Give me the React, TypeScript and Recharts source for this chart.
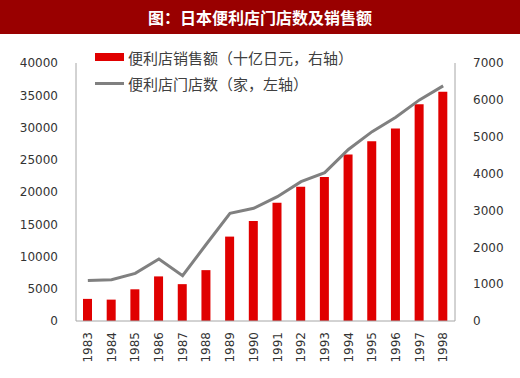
import React from 'react';
import { ComposedChart, Bar, Line, XAxis, YAxis } from 'recharts';

const years = ['1983','1984','1985','1986','1987','1988','1989','1990','1991','1992','1993','1994','1995','1996','1997','1998'];
const sales = [600, 580, 860, 1210, 1000, 1380, 2290, 2710, 3210, 3640, 3910, 4520, 4880, 5220, 5880, 6220];
const stores = [6260, 6410, 7390, 9620, 7030, 11900, 16700, 17470, 19280, 21600, 23000, 26600, 29360, 31590, 34280, 36450];
const leftTicks = [0, 5000, 10000, 15000, 20000, 25000, 30000, 35000, 40000];
const rightTicks = [0, 1000, 2000, 3000, 4000, 5000, 6000, 7000];
const salesName = '便利店销售额（十亿日元，右轴）';
const storesName = '便利店门店数（家，左轴）';
const title = '图：日本便利店门店数及销售额';

const data = years.map((y, i) => ({ year: y, sales: sales[i], stores: stores[i] }));

const axisFont = { fontFamily: 'DejaVu Sans', fontSize: 12, fill: '#333333' };
const cjk = '"Noto Sans CJK SC", sans-serif';

const XTick = (props: any) => {
  const { x, y, payload } = props;
  return (
    <g transform={`translate(${x},${y + 3})`}>
      <text transform="rotate(-90)" textAnchor="end" dy="0.35em" {...axisFont}>{payload.value}</text>
    </g>
  );
};

export default function App() {
  return (
    <div style={{ position: 'absolute', left: 0, top: 0, width: 520, height: 378, background: '#fff' }}>
      <div style={{ height: 34, background: '#990000', color: '#fff', fontFamily: cjk, fontWeight: 'bold', fontSize: 16, lineHeight: '34px', textAlign: 'center' }}>
        {title}
      </div>
      <ComposedChart width={520} height={344} data={data} margin={{ top: 29, right: 10, bottom: 7, left: 10 }}>
        <XAxis dataKey="year" tick={<XTick />} tickLine={false} axisLine={{ stroke: '#A6A6A6' }} height={50} interval={0} />
        <YAxis yAxisId="left" orientation="left" domain={[0, 40000]} ticks={leftTicks} width={66}
          tick={axisFont} tickLine={false} axisLine={{ stroke: '#A6A6A6' }} tickMargin={12} />
        <YAxis yAxisId="right" orientation="right" domain={[0, 7000]} ticks={rightTicks} width={55}
          tick={axisFont} tickLine={false} axisLine={{ stroke: '#A6A6A6' }} tickMargin={12} />
        <Bar yAxisId="right" dataKey="sales" name={salesName} fill="#E00000" barSize={9} isAnimationActive={false} />
        <Line yAxisId="left" dataKey="stores" name={storesName} stroke="#808080" strokeWidth={3} dot={false} isAnimationActive={false} />
      </ComposedChart>
      <div style={{ position: 'absolute', left: 95, top: 44, fontFamily: cjk, fontSize: 15, color: '#404040' }}>
        <div style={{ display: 'flex', alignItems: 'center', height: 26 }}>
          <div style={{ width: 29, height: 8, background: '#E00000', marginRight: 4 }} />
          <span>{salesName}</span>
        </div>
        <div style={{ display: 'flex', alignItems: 'center', height: 26 }}>
          <div style={{ width: 29, height: 3, background: '#808080', marginRight: 4 }} />
          <span>{storesName}</span>
        </div>
      </div>
    </div>
  );
}
